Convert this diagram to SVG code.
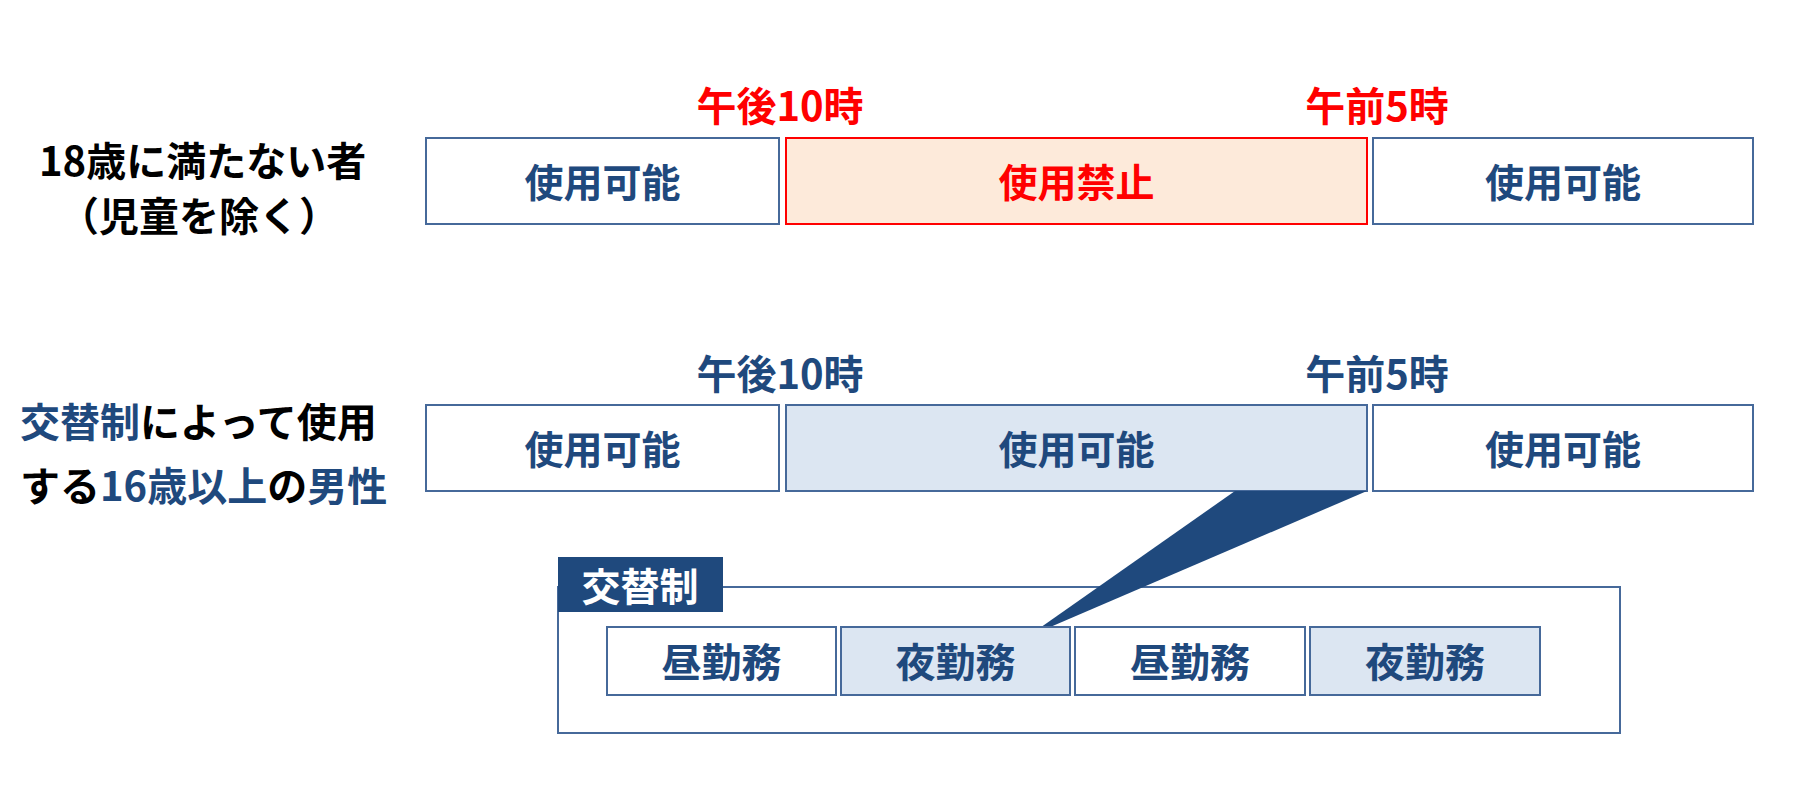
<svg xmlns="http://www.w3.org/2000/svg" width="1797" height="797" viewBox="0 0 1797 797">
<style>
text{font-family:"Noto Sans CJK JP","Noto Sans",sans-serif;font-weight:700;dominant-baseline:central;text-anchor:middle}
.box{fill:#FFFFFF;stroke:#46699A;stroke-width:2}
.blue{fill:#DCE6F2;stroke:#46699A;stroke-width:2}
.red{fill:#FDEADA;stroke:#FF0000;stroke-width:2}
.navy{fill:#1F497D}
.rt{fill:#FF0000}
.bt{font-size:39px}
.st{font-size:40px}
.tl{font-size:40px}
.ll{font-size:40px;text-anchor:start}
.blk{fill:#000000}
</style>
<rect width="1797" height="797" fill="#FFFFFF"/>
<g id="row1-label">
<text class="ll blk" x="39" y="159">18歳に満たない者</text>
<text class="ll blk" x="199" y="214" style="text-anchor:middle">（児童を除く）</text>
</g>
<g id="row1-times">
<text class="tl rt" x="780" y="104">午後10時</text>
<text class="tl rt" x="1377" y="104">午前5時</text>
</g>
<g id="r1-b1"><rect class="box" x="426" y="138" width="353" height="86"/><text class="bt navy" x="602.5" y="180">使用可能</text></g>
<g id="r1-b2"><rect class="red" x="786" y="138" width="581" height="86"/><text class="bt rt" x="1076.5" y="180">使用禁止</text></g>
<g id="r1-b3"><rect class="box" x="1373" y="138" width="380" height="86"/><text class="bt navy" x="1563" y="180">使用可能</text></g>
<g id="row2-label">
<text class="ll" x="20" y="420"><tspan class="navy">交替制</tspan><tspan class="blk">によって使用</tspan></text>
<text class="ll" x="20" y="484"><tspan class="blk">する</tspan><tspan class="navy">16歳以上</tspan><tspan class="blk">の</tspan><tspan class="navy">男性</tspan></text>
</g>
<g id="row2-times">
<text class="tl navy" x="780" y="372">午後10時</text>
<text class="tl navy" x="1377" y="372">午前5時</text>
</g>
<g id="r2-b1"><rect class="box" x="426" y="405" width="353" height="86"/><text class="bt navy" x="602.5" y="447">使用可能</text></g>
<g id="r2-b2"><rect class="blue" x="786" y="405" width="581" height="86"/><text class="bt navy" x="1076.5" y="447">使用可能</text></g>
<g id="r2-b3"><rect class="box" x="1373" y="405" width="380" height="86"/><text class="bt navy" x="1563" y="447">使用可能</text></g>
<g id="shift-group">
<rect class="box" x="558" y="587" width="1062" height="146"/>
<rect x="558" y="557" width="165" height="55" fill="#1F497D"/>
<text x="640" y="584" fill="#FFFFFF" style="font-size:39px">交替制</text>
</g>
<g id="connectors">
<polygon points="1235,491 1367,491 1027,637" fill="#1F497D"/>
</g>
<g id="s1"><rect class="box" x="607" y="627" width="229" height="68"/><text class="st navy" x="721.5" y="660">昼勤務</text></g>
<g id="s2"><rect class="blue" x="841" y="627" width="229" height="68"/><text class="st navy" x="955.5" y="660">夜勤務</text></g>
<g id="s3"><rect class="box" x="1075" y="627" width="230" height="68"/><text class="st navy" x="1190" y="660">昼勤務</text></g>
<g id="s4"><rect class="blue" x="1310" y="627" width="230" height="68"/><text class="st navy" x="1425" y="660">夜勤務</text></g>
</svg>
